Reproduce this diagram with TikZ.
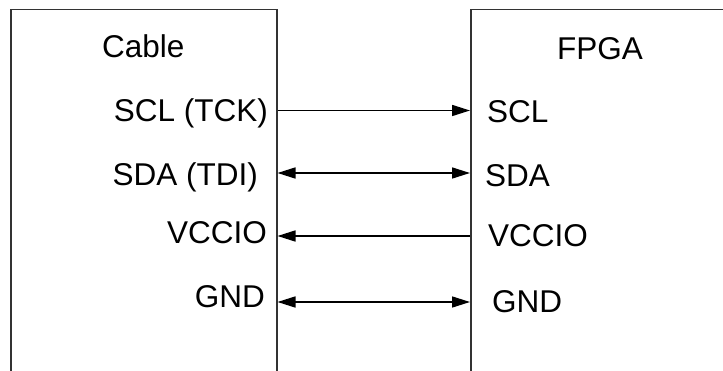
\documentclass[tikz,border=0pt]{standalone}
\usepackage{fontspec}
\setmainfont{Liberation Sans}
\usetikzlibrary{arrows.meta}
\begin{document}
\begin{tikzpicture}[x=1pt,y=-1pt,
  box/.style={draw=black!80, line width=1.5pt, inner sep=0pt, anchor=north west, minimum height=420pt},
  lbl/.style={font=\fontsize{31.5}{36}\selectfont, inner sep=0pt},
  wire/.style={line width=1.6pt, draw=black},
  tipA/.style={-{Triangle[length=18pt,width=11pt]}},
  tipB/.style={{Triangle[length=18pt,width=11pt]}-{Triangle[length=18pt,width=11pt]}},
  tipC/.style={{Triangle[length=18pt,width=11pt]}-}]
\useasboundingbox (0,0) rectangle (723,371);
\clip (0,0) rectangle (723,371);
\fill[white] (0,0) rectangle (723,371);
\node[box, minimum width=266pt] (cable) at (10,9) {};
\node[box, minimum width=300pt] (fpga) at (470,9) {};
% titles
\node[lbl, anchor=base west] (cablet) at (102,58) {Cable};
\node[lbl, anchor=base west] (fpgat) at (557,60) {FPGA};
% left labels
\node[lbl, anchor=base east] (l1) at (268,122) {SCL (TCK)};
\node[lbl, anchor=base east] (l2) at (258,186) {SDA (TDI)};
\node[lbl, anchor=base east] (l3) at (267,244) {VCCIO};
\node[lbl, anchor=base east] (l4) at (265,308) {GND};
% right labels
\node[lbl, anchor=base west] (r1) at (487,123) {SCL};
\node[lbl, anchor=base west] (r2) at (485,187) {SDA};
\node[lbl, anchor=base west] (r3) at (488,247) {VCCIO};
\node[lbl, anchor=base west] (r4) at (492,313) {GND};
% wire heights
\coordinate (y1) at (0,110.5);
\coordinate (y2) at (0,173);
\coordinate (y3) at (0,236);
\coordinate (y4) at (0,302);
\draw[wire, tipA] (cable.east |- y1) -- (fpga.west |- y1);
\draw[wire, tipB] (cable.east |- y2) -- (fpga.west |- y2);
\draw[wire, tipC] (cable.east |- y3) -- (fpga.west |- y3);
\draw[wire, tipB] (cable.east |- y4) -- (fpga.west |- y4);
\end{tikzpicture}
\end{document}
